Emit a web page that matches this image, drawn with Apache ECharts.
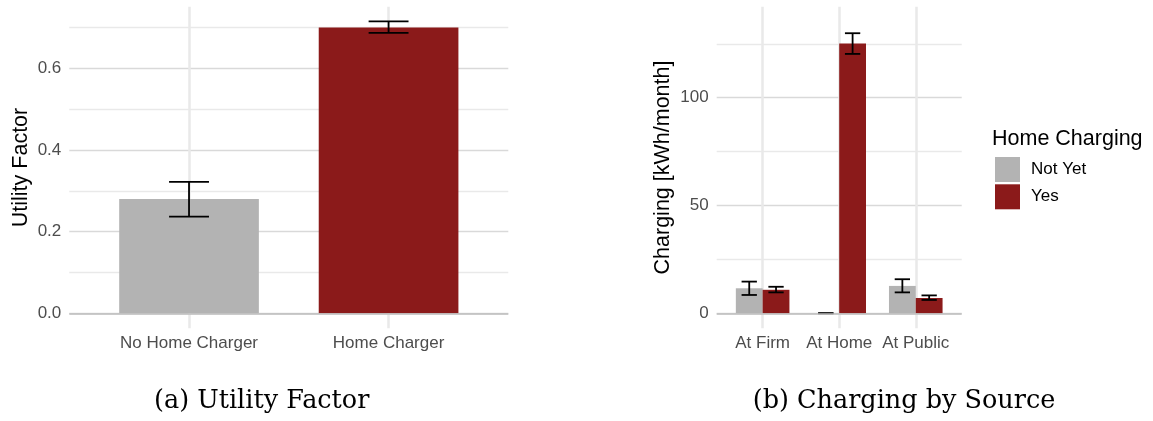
<!DOCTYPE html>
<html>
<head>
<meta charset="utf-8">
<script src="https://cdn.jsdelivr.net/npm/echarts@6/dist/echarts.min.js"></script>
<style>
  html, body { margin: 0; padding: 0; background: #fff; }
  #chart { width: 1153px; height: 421px; }
</style>
</head>
<body>
<div id="chart"></div>
<script>
// ---- Data: panel (a) Utility Factor ----
const ufCategories = ['No Home Charger', 'Home Charger'];
const ufValues = [0.280, 0.700];
const ufLower  = [0.237, 0.687];
const ufUpper  = [0.322, 0.715];
const ufTicks  = [0, 0.2, 0.4, 0.6];

// ---- Data: panel (b) Charging by Source (kWh/month) ----
const srcCategories = ['At Firm', 'At Home', 'At Public'];
const groupNames = ['Not Yet', 'Yes'];
const notYetValues = [11.6, 0.0, 12.7];
const notYetLower  = [8.5, 0.0, 9.7];
const notYetUpper  = [14.7, 0.0, 15.8];
const yesValues = [10.9, 125.1, 7.1];
const yesLower  = [9.7, 120.3, 6.2];
const yesUpper  = [12.3, 129.9, 8.3];
const srcTicks  = [0, 50, 100];

const GRAY = '#b3b3b3';
const RED = '#8b1a1a';
const FONT = 'Liberation Sans, Arial, sans-serif';

function renderBarErr(offset, halfW, capHalf, colorFn) {
  return function (params, api) {
    const x = api.value(0), v = api.value(1), lo = api.value(2), hi = api.value(3);
    const c = x + offset;
    const tl = api.coord([c - halfW, v]);
    const br = api.coord([c + halfW, 0]);
    const capL_hi = api.coord([c - capHalf, hi]);
    const capR_hi = api.coord([c + capHalf, hi]);
    const capL_lo = api.coord([c - capHalf, lo]);
    const capR_lo = api.coord([c + capHalf, lo]);
    const mid_hi = api.coord([c, hi]);
    const mid_lo = api.coord([c, lo]);
    const errStyle = { stroke: '#000', lineWidth: 1.8 };
    return {
      type: 'group',
      children: [
        { type: 'rect', shape: { x: tl[0], y: tl[1], width: br[0] - tl[0], height: br[1] - tl[1] },
          style: { fill: colorFn(params.dataIndex) } },
        { type: 'line', shape: { x1: capL_hi[0], y1: capL_hi[1], x2: capR_hi[0], y2: capR_hi[1] }, style: errStyle },
        { type: 'line', shape: { x1: capL_lo[0], y1: capL_lo[1], x2: capR_lo[0], y2: capR_lo[1] }, style: errStyle },
        { type: 'line', shape: { x1: mid_hi[0], y1: mid_hi[1], x2: mid_lo[0], y2: mid_lo[1] }, style: errStyle }
      ]
    };
  };
}

const zeroLine = {
  silent: true, symbol: ['none', 'none'], label: { show: false },
  lineStyle: { color: '#bdbdbd', width: 1.6, type: 'solid' },
  emphasis: { disabled: true },
  data: [{ yAxis: 0 }]
};

const ufData = ufCategories.map((c, i) => [i + 1, ufValues[i], ufLower[i], ufUpper[i]]);
const notYetData = srcCategories.map((c, i) => [i + 1, notYetValues[i], notYetLower[i], notYetUpper[i]]);
const yesData = srcCategories.map((c, i) => [i + 1, yesValues[i], yesLower[i], yesUpper[i]]);

const hSplit = { show: true, showMinLine: false, showMaxLine: false,
  lineStyle: { color: ['#d9d9d9', '#e9e9e9'], width: 1.3 } };
const vSplit = { show: true, lineStyle: { color: '#e9e9e9', width: 2.5 } };

const chart = echarts.init(document.getElementById('chart'), null, { renderer: 'canvas' });
chart.setOption({
  animation: false,
  backgroundColor: '#fff',
  textStyle: { fontFamily: FONT },
  grid: [
    { left: 69.3, top: 6.7, width: 439, height: 321.6 },
    { left: 716.7, top: 6.7, width: 245, height: 321.6 }
  ],
  xAxis: [
    { type: 'value', gridIndex: 0, min: 0.4, max: 2.6,
      axisLine: { show: false },
      axisTick: { show: false, customValues: [1, 2] },
      axisLabel: { customValues: [1, 2], formatter: v => ufCategories[Math.round(v) - 1],
        color: '#4d4d4d', fontSize: 17, margin: 7, fontFamily: FONT },
      splitLine: vSplit },
    { type: 'value', gridIndex: 1, min: 0.4, max: 3.6,
      axisLine: { show: false },
      axisTick: { show: false, customValues: [1, 2, 3] },
      axisLabel: { customValues: [1, 2, 3], formatter: v => srcCategories[Math.round(v) - 1],
        color: '#4d4d4d', fontSize: 17, margin: 7, fontFamily: FONT },
      splitLine: vSplit }
  ],
  yAxis: [
    { type: 'value', gridIndex: 0, min: -0.0367, max: 0.751, splitNumber: 8,
      minInterval: 0.1, maxInterval: 0.1,
      name: 'Utility Factor', nameLocation: 'middle', nameGap: 37,
      nameTextStyle: { color: '#000', fontSize: 21.5, fontFamily: FONT },
      axisLine: { show: false }, axisTick: { show: false },
      axisLabel: { customValues: ufTicks, formatter: v => v.toFixed(1),
        color: '#4d4d4d', fontSize: 17, margin: 8, fontFamily: FONT },
      splitLine: hSplit },
    { type: 'value', gridIndex: 1, min: -6.96, max: 142.2, splitNumber: 6,
      minInterval: 25, maxInterval: 25,
      name: 'Charging [kWh/month]', nameLocation: 'middle', nameGap: 43,
      nameTextStyle: { color: '#000', fontSize: 21.5, fontFamily: FONT },
      axisLine: { show: false }, axisTick: { show: false },
      axisLabel: { customValues: srcTicks, formatter: v => String(Math.round(v)),
        color: '#4d4d4d', fontSize: 17, margin: 8, fontFamily: FONT },
      splitLine: hSplit }
  ],
  title: [
    { text: 'Home Charging', left: 992, top: 128, padding: 0,
      textStyle: { fontSize: 21.5, fontWeight: 'normal', color: '#000', fontFamily: FONT } }
  ],
  legend: {
    data: [{ name: 'Not Yet', icon: 'rect' }, { name: 'Yes', icon: 'rect' }],
    orient: 'vertical', left: 995, top: 157, padding: 0,
    itemWidth: 25, itemHeight: 25, itemGap: 2.3,
    selectedMode: false,
    textStyle: { fontSize: 17, color: '#000', fontFamily: FONT, padding: [2, 0, 0, 6] }
  },
  graphic: [
    { type: 'text', style: { text: '(a) Utility Factor', x: 261.7, y: 401, align: 'center', verticalAlign: 'middle',
      font: '25.5px "DejaVu Serif", serif', fill: '#000' } },
    { type: 'text', style: { text: '(b) Charging by Source', x: 904, y: 401, align: 'center', verticalAlign: 'middle',
      font: '25.5px "DejaVu Serif", serif', fill: '#000' } }
  ],
  series: [
    { type: 'custom', name: 'Utility', xAxisIndex: 0, yAxisIndex: 0,
      renderItem: renderBarErr(0, 0.35, 0.1, i => (i === 0 ? GRAY : RED)),
      encode: { x: 0, y: 1 }, data: ufData, markLine: zeroLine, z: 2 },
    { type: 'custom', name: 'Not Yet', xAxisIndex: 1, yAxisIndex: 1,
      itemStyle: { color: GRAY }, color: GRAY,
      renderItem: renderBarErr(-0.175, 0.175, 0.1, () => GRAY),
      encode: { x: 0, y: 1 }, data: notYetData, markLine: zeroLine, z: 2 },
    { type: 'custom', name: 'Yes', xAxisIndex: 1, yAxisIndex: 1,
      itemStyle: { color: RED }, color: RED,
      renderItem: renderBarErr(0.175, 0.175, 0.1, () => RED),
      encode: { x: 0, y: 1 }, data: yesData, z: 2 }
  ]
});
</script>
</body>
</html>
